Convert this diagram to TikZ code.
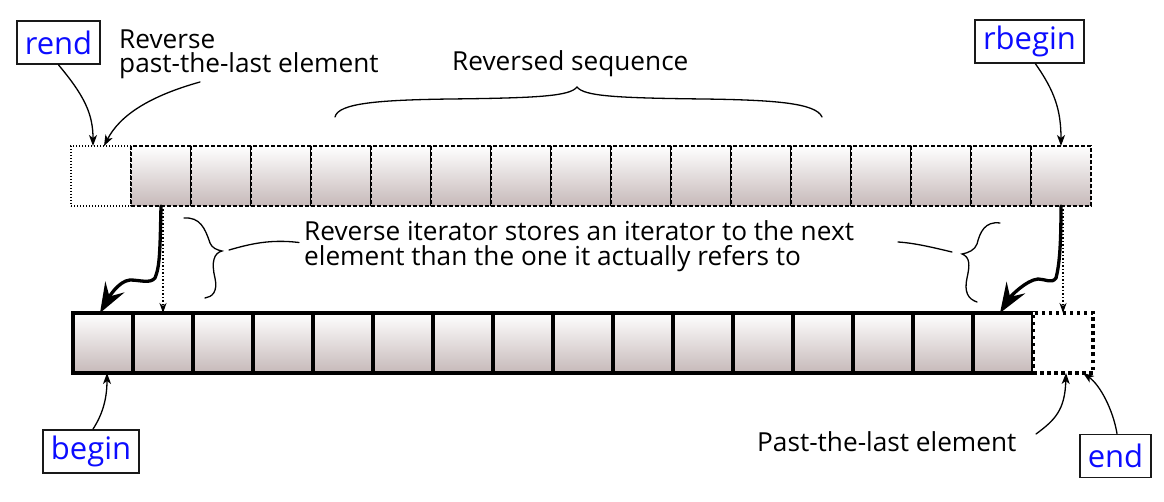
\documentclass[tikz,border=0pt]{standalone}
\usepackage{fontspec}
\setmainfont{Open Sans}
\usetikzlibrary{arrows.meta}
\definecolor{cellbot}{RGB}{198,185,185}
\definecolor{lblblue}{RGB}{12,12,255}
\begin{document}
\begin{tikzpicture}[x=1pt,y=-1pt,
  font=\fontsize{26.2}{30}\selectfont,
  cell/.style={minimum width=60pt,minimum height=60pt,inner sep=0pt,outer sep=0pt,
    top color=white,bottom color=cellbot,anchor=north west},
  topcell/.style={cell,draw,line width=1.3pt,dash pattern=on 4pt off 2pt},
  botcell/.style={cell,draw,line width=3.5pt},
  lbl/.style={draw=black!90,line width=1.8pt,fill=white,text=lblblue,
    font=\fontsize{31}{36}\selectfont,minimum height=43pt,inner xsep=8pt,inner ysep=0pt},
  txt/.style={anchor=base west,inner sep=0pt},
  thin/.style={line width=1.3pt,line cap=round,-{Stealth[length=11pt,width=8pt,inset=3pt]}},
  thick/.style={line width=3.3pt,line cap=round,-{Stealth[length=30pt,width=22pt,inset=11pt]}},
  dotarrow/.style={line width=1.5pt,dash pattern=on 1.5pt off 2pt,-{Stealth[length=10pt,width=7pt,inset=3pt]}},
  bracestyle/.style={line width=1.3pt,line cap=round}
]
\useasboundingbox (0,0) rectangle (1164,502);

% top row
\node[cell,draw,line width=1.2pt,dash pattern=on 1.2pt off 1.8pt,top color=white,bottom color=white] (t0) at (71,146) {};
\foreach \i in {1,...,16}{
  \node[topcell] (t\i) at ({131+60*(\i-1)},146) {};
}
% bottom row
\foreach \i in {1,...,16}{
  \node[botcell] (b\i) at ({73+60*(\i-1)},313) {};
}
\node[cell,draw,line width=3.5pt,dash pattern=on 3.5pt off 3.5pt,top color=white,bottom color=white] (b17) at (1033,313) {};

% labels
\node[lbl] (rend) at (58.5,42.5) {rend};
\node[lbl] (rbegin) at (1029.5,41.5) {rbegin};
\node[lbl] (begin) at (91,451.5) {begin};
\node[lbl] (end) at (1115.5,456) {end};

% texts
\node[txt] (rpl1) at (119,49) {Reverse};
\node[txt] (rpl2) at (119,73) {past-the-last element};
\node[txt] (rseq) at (452,70.5) {Reversed sequence};
\node[txt] (ri1) at (304,240.5) {Reverse iterator stores an iterator to the next};
\node[txt] (ri2) at (304,265.5) {element than the one it actually refers to};
\node[txt] (ptl) at (757,451.5) {Past-the-last element};

% thin arrows
\draw[thin] (rend.south) .. controls +(26,31) and +(0,-32) .. ([xshift=-8pt]t0.north);
\coordinate (rplfoot) at (200,82);
\draw[thin] (rplfoot) .. controls +(-50,14) and +(16,-31) .. ([xshift=3pt]t0.north);
\draw[thin] ([xshift=6pt]rbegin.south) .. controls +(19,27) and +(0,-36) .. (t16.north);
\draw[thin] ([xshift=2pt]begin.north) .. controls +(9,-14) and +(0,27) .. ([xshift=4pt]b1.south);
\coordinate (ptlfoot) at (1036,434);
\draw[thin] (ptlfoot) .. controls +(19,-14) and +(-1,37) .. ([xshift=3pt]b17.south);
\draw[thin] ([xshift=1.5pt]end.north) .. controls +(-4,-24) and +(17,12) .. ([xshift=20pt]b17.south);

% thick arrows
\draw[thick] (t1.south) .. controls +(-1,44) and +(5,-12) .. ++(-6,72)
  .. controls +(-5,6) and +(10,0) .. ++(-25,2)
  .. controls +(-12,1) and +(8,-14) .. ([xshift=-3pt]b1.north);
\draw[thick] (t16.south) .. controls +(0,44) and +(3,-12) .. ++(-5,72)
  .. controls +(-4,6) and +(7,0) .. ++(-18,1)
  .. controls +(-12,1) and +(10,-16) .. ([xshift=-3pt]b16.north);
\draw[dotarrow] ([xshift=2pt]t1.south) -- (b2.north);
\draw[dotarrow] ([xshift=2pt]t16.south) -- (b17.north);

% big brace
\draw[bracestyle] (335,117) .. controls (338,103) and (380,100) .. (450,99)
  .. controls (540,98) and (570,96) .. (577,87)
  .. controls (584,96) and (614,98) .. (704,99)
  .. controls (774,100) and (816,103) .. (822,117);

% left small brace
\coordinate (lbtip) at (222,251);
\draw[bracestyle] (184,218) .. controls (200,217) and (205,228) .. (210,243)
  .. controls (212,248) and (217,250) .. (lbtip)
  .. controls (214,253) and (211,262) .. (215,278)
  .. controls (218,292) and (212,297) .. (205,298);
\coordinate (lcon) at (229,250);
\draw[bracestyle] (lcon) .. controls (250,244) and (270,239) .. ([shift={(-5pt,-2pt)}]ri1.base west);

% right small brace
\coordinate (rbtip) at (962,254);
\draw[bracestyle] (1000,223) .. controls (985,221) and (980,232) .. (977,244)
  .. controls (975,250) and (968,253) .. (rbtip)
  .. controls (970,257) and (970,265) .. (967,278)
  .. controls (964,292) and (968,299) .. (977,302);
\coordinate (rcon) at (952,252);
\coordinate (rconend) at (898,242);
\draw[bracestyle] (rcon) .. controls (935,248) and (915,243) .. (rconend);
\end{tikzpicture}
\end{document}
